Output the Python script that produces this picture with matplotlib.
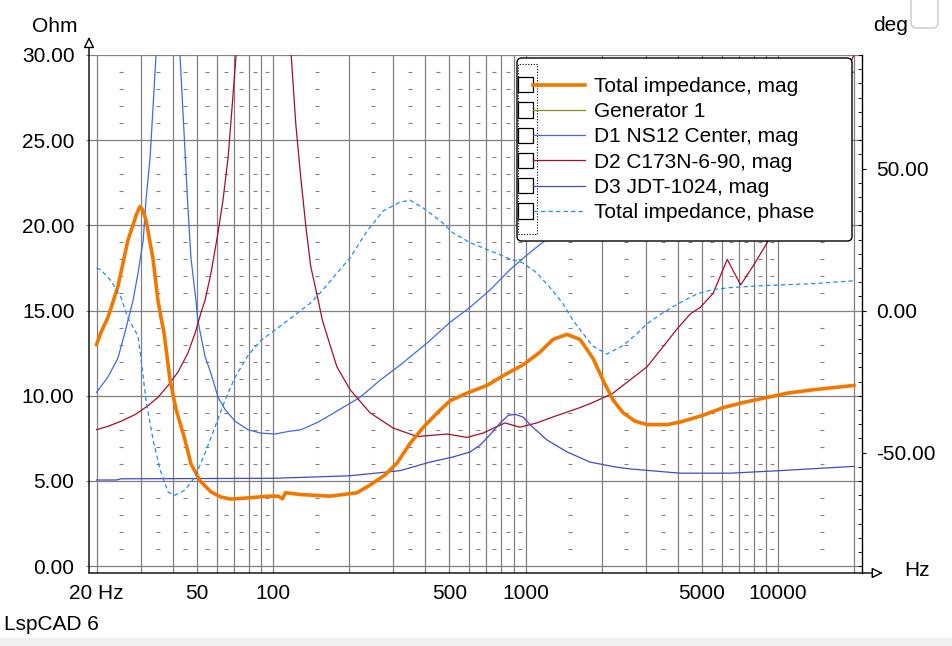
import numpy as np
import matplotlib
matplotlib.use("Agg")
import matplotlib.pyplot as plt
from matplotlib.lines import Line2D
from matplotlib.patches import Rectangle, FancyBboxPatch
from matplotlib.legend_handler import HandlerBase

plt.rcParams['font.family'] = ['Liberation Sans', 'DejaVu Sans']

# ---- data ----
tot_f = [20, 20.8, 22.2, 24.3, 26.6, 28.0, 28.7, 29.7, 30.5, 31.4, 33.5, 35.0, 36.0, 37.0, 39.1, 41.3, 44.8,
         47.3, 51.4, 56.8, 62.2, 68.2, 79.6, 95.5, 105, 109, 112, 128, 168, 215, 242, 278, 310,
         349, 394, 448, 502, 586, 703, 844, 976, 1140, 1284, 1460, 1644, 1850, 2028, 2222, 2434,
         2716, 3032, 3640, 4098, 5054, 6072, 7292, 9080, 10910, 13820, 20000]
tot_mag = [13.0, 13.7, 14.6, 16.4, 19.1, 20.1, 20.6, 21.1, 20.9, 20.3, 18.0, 15.6, 14.6, 13.7, 10.9, 9.2, 7.4,
           6.0, 5.0, 4.35, 4.05, 3.93, 4.0, 4.1, 4.1, 3.95, 4.3, 4.2, 4.1, 4.3, 4.75, 5.35, 6.05,
           7.2, 8.15, 9.0, 9.7, 10.15, 10.6, 11.3, 11.8, 12.55, 13.3, 13.6, 13.3, 12.2, 10.9, 9.75, 9.0,
           8.5, 8.3, 8.3, 8.45, 8.85, 9.3, 9.6, 9.9, 10.15, 10.35, 10.6]

phase_f = [20, 20.8, 22.8, 25.0, 26.6, 29.2, 30.0, 31.4, 33.5, 35.7, 38.4, 40.9, 44.8, 49.1, 53.8,
           58.9, 64.5, 70.7, 79.6, 89.6, 107.5, 125.6, 140, 153, 173, 202, 236, 273, 319, 349, 394,
           460, 516, 604, 723, 868, 976, 1108, 1250, 1406, 1544, 1690, 1850, 2102, 2434, 2766, 3032,
           3518, 4098, 4808, 5530, 6474, 8754, 13820, 20000]
phase_deg = [15.0, 14.4, 10.5, 4.6, -2.5, -9.0, -17.0, -31.6, -45.6, -56.0, -63.9, -65.0, -63.2, -58.6, -50.2,
             -41.0, -31.6, -23.5, -15.8, -10.5, -5.3, -0.7, 2.5, 6.0, 11.6, 18.6, 28.1, 35.1, 38.2, 38.9, 36.1,
             31.6, 27.4, 23.9, 21.1, 18.2, 16.8, 13.3, 8.1, 2.5, -3.5, -8.1, -12.5, -15.3, -12.3, -8.1, -4.6,
             -0.7, 2.8, 6.0, 7.4, 8.1, 8.8, 9.5, 10.5]

d1_f = [20, 22.2, 24.3, 25.9, 27.9, 29.2, 30.6, 31.4, 32.6, 33.5, 34.4, 38.5, 42.8, 44.8, 46.0, 47.3,
        49.5, 50.4, 53.8, 56.8, 60.6, 64.5, 70.7, 79.6, 89.6, 102, 115, 129, 151, 184, 221, 265, 319,
        408, 502, 604, 723, 868, 1040, 1194, 2000, 5000, 20000]
d1_mag = [10.2, 11.1, 12.2, 13.7, 15.6, 17.2, 19.1, 21.5, 24.0, 27.0, 30.0, 55.0, 30.0, 24.4, 21.1, 18.1,
          15.6, 14.4, 12.3, 11.3, 9.9, 9.2, 8.5, 8.0, 7.8, 7.75, 7.9, 8.0, 8.45, 9.2, 9.9, 10.9, 11.8,
          13.1, 14.3, 15.2, 16.2, 17.4, 18.4, 19.1, 22.5, 26.5, 29.0]

d2_f = [20, 22.2, 25.0, 28.5, 31.9, 35.0, 38.4, 42.1, 46.0, 49.2, 51.9, 53.8, 56.8, 60.6, 63.4, 66.4,
        68.9, 71.4, 91, 118, 123, 129, 135, 141, 150, 157, 179, 202, 242, 299, 373, 489, 586, 678,
        829, 950, 1108, 1284, 1644, 1850, 2222, 3032, 3976, 4494, 4938, 5530, 6298, 7112, 7960, 9080,
        20000]
d2_mag = [8.0, 8.2, 8.5, 8.9, 9.4, 9.9, 10.6, 11.4, 12.5, 13.7, 14.9, 15.6, 17.2, 19.6, 21.5, 24.0,
          27.0, 30.0, 60.0, 30.0, 26.0, 22.7, 19.9, 17.6, 15.8, 14.4, 11.7, 10.35, 9.0, 8.1, 7.6, 7.75, 7.55, 7.8,
          8.4, 8.15, 8.4, 8.75, 9.3, 9.6, 10.15, 11.7, 13.9, 14.8, 15.2, 16.0, 18.0, 16.5, 17.6, 19.0,
          30.0]

d3_f = [20, 24, 25, 100, 128, 202, 319, 418, 516, 604, 661, 723, 794, 855, 912, 976, 1069, 1216,
        1460, 1802, 2300, 2592, 4098, 6474, 10190, 20000]
d3_mag = [5.05, 5.05, 5.12, 5.15, 5.2, 5.3, 5.6, 6.1, 6.4, 6.7, 7.1, 7.7, 8.4, 8.85, 8.9, 8.75, 8.15, 7.4,
          6.7, 6.1, 5.8, 5.7, 5.45, 5.45, 5.6, 5.85]

grid_f = [20, 30, 40, 50, 60, 70, 80, 90, 100, 200, 300, 400, 500, 600, 700, 800, 900,
          1000, 2000, 3000, 4000, 5000, 6000, 7000, 8000, 9000, 10000, 20000]
label_f = [20, 50, 100, 500, 1000, 5000, 10000]
label_txt = ['20 Hz', '50', '100', '500', '1000', '5000', '10000']
legend_names = ['Total impedance, mag', 'Generator 1', 'D1 NS12 Center, mag',
                'D2 C173N-6-90, mag', 'D3 JDT-1024, mag', 'Total impedance, phase']

c_tot = '#f07800'
c_gen = '#8c8c1a'
c_d1 = '#4169e1'
c_d2 = '#a0102a'
c_d3 = '#4848c0'
c_ph = '#1e8cf0'
gridc = '#808080'

W, H = 953, 646


class CheckBoxHandler(HandlerBase):
    # checkbox square followed by a short sample of the line
    def create_artists(self, legend, orig_handle, xdescent, ydescent, width, height, fontsize, trans):
        box = 11.0
        y0 = -ydescent + (height - box) / 2
        sq = Rectangle((-xdescent, y0), box, box, facecolor='white', edgecolor='black', lw=0.9,
                       transform=trans)
        ln = Line2D([], [])
        ln.update_from(orig_handle)
        ln.set_data([-xdescent + box, -xdescent + width], [-ydescent + height / 2] * 2)
        ln.set_transform(trans)
        return [sq, ln]


fig = plt.figure(figsize=(W / 100, H / 100), dpi=100)
fig.patch.set_facecolor('white')
ax = fig.add_axes([89 / W, 73 / H, 773 / W, 518 / H])
ax.set_xscale('log')
ax.set_xlim(18.67, 21516)
ax.set_ylim(-0.41, 30)

ax.set_xticks(grid_f, minor=True)
ax.set_xticks(label_f, label_txt)
ax.tick_params(axis='x', which='both', length=0, pad=8, labelsize=15)
ax.grid(True, which='both', axis='x', color=gridc, lw=0.9)
ax.set_yticks(range(0, 31, 5), [f'{v:.2f}' for v in range(0, 31, 5)])
ax.tick_params(axis='y', which='major', length=2.5, color=gridc, pad=8, labelsize=15)
ax.grid(True, which='major', axis='y', color=gridc, lw=0.9)
for s in ax.spines.values():
    s.set_visible(False)

# little dash marks for the minor ohm lines
mid_f = [25, 35, 45, 55, 65, 75, 85, 95, 150, 250, 350, 450, 550, 650, 750, 850, 950,
         1500, 2500, 3500, 4500, 5500, 6500, 7500, 8500, 9500, 15000]
minor_ohm = [v for v in range(1, 30) if v % 5]
MX, MY = np.meshgrid(mid_f, minor_ohm)
ax.plot(MX.ravel(), MY.ravel(), ls='none', marker='_', ms=3.0, mew=0.8, color=gridc, zorder=1)

ax.plot(d1_f, d1_mag, color=c_d1, lw=0.9, label=legend_names[2])
ax.plot(d2_f, d2_mag, color=c_d2, lw=0.9, label=legend_names[3])
ax.plot(d3_f, d3_mag, color=c_d3, lw=0.9, label=legend_names[4])
ax.plot(tot_f, tot_mag, color=c_tot, lw=2.6, label=legend_names[0], zorder=3)

# axis arrows
arrow = dict(arrowstyle='-|>,head_length=0.65,head_width=0.32', fc='white', ec='black', lw=1,
             shrinkA=0, shrinkB=0, mutation_scale=10)
ax.annotate('', xy=(0, 1.035), xytext=(0, 0), xycoords='axes fraction', arrowprops=arrow,
            annotation_clip=False)
ax.annotate('', xy=(1.027, 0), xytext=(0, 0), xycoords='axes fraction', arrowprops=arrow,
            annotation_clip=False)

# phase axis on the right
ax2 = ax.twinx()
ax2.set_ylim(-92.4, 90)
ax2.set_yticks([-50, 0, 50], ['-50.00', '0.00', '50.00'])
ax2.set_yticks(np.arange(-90, 91, 5), minor=True)
ax2.tick_params(axis='y', which='major', length=3, direction='out', pad=7, labelsize=15)
ax2.tick_params(axis='y', which='minor', length=3, direction='in')
for k in ['top', 'left', 'bottom']:
    ax2.spines[k].set_visible(False)
ax2.spines['right'].set_color('black')
ax2.spines['right'].set_linewidth(1)
ax2.plot(phase_f, phase_deg, color=c_ph, lw=0.9, ls=(0, (3.5, 2.5)), label=legend_names[5])

# legend
handles = [Line2D([], [], color=c_tot, lw=2.6),
           Line2D([], [], color=c_gen, lw=0.9),
           Line2D([], [], color=c_d1, lw=0.9),
           Line2D([], [], color=c_d2, lw=0.9),
           Line2D([], [], color=c_d3, lw=0.9),
           Line2D([], [], color=c_ph, lw=0.9, ls=(0, (3.5, 2.5)))]
frame = FancyBboxPatch((517 / W, 1 - 241 / H), 335 / W, 183 / H,
                       boxstyle='round,pad=0,rounding_size=0.005', mutation_aspect=W / H,
                       transform=fig.transFigure, facecolor='white', edgecolor='black', lw=1,
                       zorder=5, clip_on=False)
ax2.add_artist(frame)
col = Rectangle((518 / W, 1 - 234 / H), 19 / W, 170 / H, transform=fig.transFigure,
                facecolor='none', edgecolor='black', lw=0.8, ls=(0, (1, 1.5)), zorder=6,
                clip_on=False)
ax2.add_artist(col)
leg = ax2.legend(handles, legend_names, loc='upper left', bbox_to_anchor=(518 / W, 1 - 77 / H),
                 bbox_transform=fig.transFigure, frameon=False, fontsize=15, borderpad=0,
                 borderaxespad=0, handlelength=3.22, handletextpad=0.43, labelspacing=0.30,
                 handler_map={Line2D: CheckBoxHandler()})
leg.set_zorder(7)

# texts around the plot
fig.text(32 / W, 1 - 32 / H, 'Ohm', fontsize=15, ha='left', va='baseline')
fig.text(873 / W, 1 - 31 / H, 'deg', fontsize=15, ha='left', va='baseline')
fig.text(904 / W, 1 - 576 / H, 'Hz', fontsize=15, ha='left', va='baseline')
fig.text(4 / W, 1 - 630 / H, 'LspCAD 6', fontsize=15, ha='left', va='baseline')

fig.add_artist(Rectangle((0, 0), 1, 8 / H, transform=fig.transFigure, facecolor='#f0f0f0',
                         edgecolor='none'))
fig.add_artist(FancyBboxPatch((911 / W, 1 - 28 / H), 27 / W, 40 / H,
                              boxstyle='round,pad=0,rounding_size=0.006', mutation_aspect=W / H,
                              transform=fig.transFigure, facecolor='white', edgecolor='#c8c8c8',
                              lw=1))

fig.savefig('out.png', dpi=100)
